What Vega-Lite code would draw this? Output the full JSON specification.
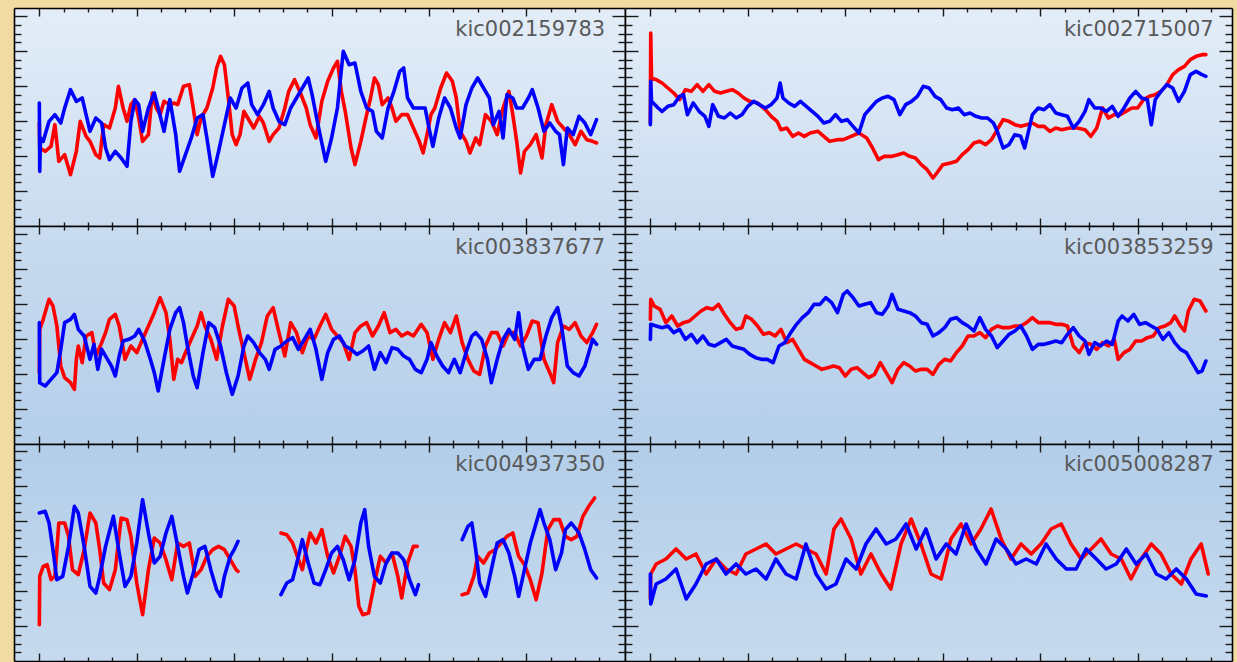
{
"$schema": "https://vega.github.io/schema/vega-lite/v6.json",
"background": "#f2dba2",
"padding": {"left": 13, "top": 7, "right": 4, "bottom": 0},
"autosize": {"type": "pad"},
"config": {
  "view": {"stroke": null},
  "axis": {"domainColor": "#000000", "domainWidth": 1.6, "tickColor": "#1a1a1a", "tickWidth": 1.4, "labels": false, "grid": false, "minExtent": 0, "maxExtent": 0},
  "line": {"strokeWidth": 3.6, "strokeJoin": "round", "strokeCap": "round"},
  "text": {"font": "DejaVu Sans", "fontSize": 21, "color": "#595959", "align": "right", "baseline": "alphabetic"}
},
"datasets": {
"p1r": [{"t":0,"v":309},{"t":1,"v":234},{"t":15,"v":224},{"t":30,"v":239},{"t":40,"v":304},{"t":50,"v":194},{"t":65,"v":214},{"t":80,"v":154},{"t":95,"v":224},{"t":105,"v":314},{"t":120,"v":269},{"t":130,"v":254},{"t":145,"v":214},{"t":155,"v":204},{"t":165,"v":304},{"t":180,"v":294},{"t":195,"v":354},{"t":203,"v":419},{"t":215,"v":354},{"t":225,"v":314},{"t":235,"v":364},{"t":245,"v":379},{"t":255,"v":324},{"t":265,"v":254},{"t":280,"v":274},{"t":290,"v":399},{"t":300,"v":354},{"t":310,"v":334},{"t":320,"v":374},{"t":335,"v":364},{"t":345,"v":369},{"t":355,"v":364},{"t":370,"v":419},{"t":385,"v":424},{"t":395,"v":354},{"t":405,"v":274},{"t":415,"v":324},{"t":430,"v":354},{"t":445,"v":414},{"t":455,"v":474},{"t":465,"v":509},{"t":475,"v":484},{"t":485,"v":384},{"t":495,"v":274},{"t":505,"v":244},{"t":515,"v":274},{"t":525,"v":344},{"t":535,"v":324},{"t":550,"v":294},{"t":565,"v":329},{"t":575,"v":309},{"t":590,"v":254},{"t":600,"v":274},{"t":615,"v":294},{"t":630,"v":354},{"t":640,"v":404},{"t":655,"v":439},{"t":670,"v":399},{"t":685,"v":354},{"t":695,"v":304},{"t":710,"v":264},{"t":725,"v":374},{"t":740,"v":434},{"t":755,"v":474},{"t":765,"v":494},{"t":775,"v":404},{"t":785,"v":344},{"t":800,"v":234},{"t":810,"v":184},{"t":825,"v":254},{"t":840,"v":334},{"t":850,"v":384},{"t":860,"v":444},{"t":870,"v":424},{"t":880,"v":364},{"t":895,"v":384},{"t":905,"v":354},{"t":915,"v":314},{"t":930,"v":334},{"t":945,"v":334},{"t":960,"v":294},{"t":975,"v":254},{"t":985,"v":219},{"t":995,"v":274},{"t":1005,"v":334},{"t":1015,"v":354},{"t":1030,"v":414},{"t":1045,"v":459},{"t":1060,"v":434},{"t":1070,"v":384},{"t":1080,"v":284},{"t":1095,"v":254},{"t":1105,"v":219},{"t":1120,"v":264},{"t":1130,"v":244},{"t":1145,"v":334},{"t":1160,"v":314},{"t":1175,"v":274},{"t":1190,"v":354},{"t":1205,"v":404},{"t":1215,"v":334},{"t":1225,"v":254},{"t":1235,"v":159},{"t":1245,"v":224},{"t":1260,"v":244},{"t":1275,"v":274},{"t":1290,"v":204},{"t":1300,"v":304},{"t":1315,"v":364},{"t":1330,"v":314},{"t":1345,"v":294},{"t":1360,"v":274},{"t":1375,"v":244},{"t":1390,"v":284},{"t":1405,"v":259},{"t":1420,"v":254},{"t":1430,"v":249}],
"p1b": [{"t":0,"v":369},{"t":1,"v":164},{"t":3,"v":264},{"t":10,"v":254},{"t":25,"v":314},{"t":40,"v":334},{"t":55,"v":309},{"t":65,"v":354},{"t":80,"v":409},{"t":95,"v":374},{"t":110,"v":384},{"t":120,"v":334},{"t":130,"v":284},{"t":145,"v":324},{"t":160,"v":309},{"t":170,"v":234},{"t":180,"v":199},{"t":195,"v":224},{"t":210,"v":204},{"t":225,"v":179},{"t":235,"v":314},{"t":245,"v":379},{"t":255,"v":364},{"t":265,"v":284},{"t":280,"v":354},{"t":295,"v":399},{"t":305,"v":354},{"t":320,"v":284},{"t":335,"v":379},{"t":350,"v":274},{"t":360,"v":164},{"t":375,"v":214},{"t":390,"v":264},{"t":405,"v":324},{"t":420,"v":334},{"t":430,"v":264},{"t":445,"v":149},{"t":460,"v":224},{"t":475,"v":304},{"t":490,"v":384},{"t":505,"v":354},{"t":520,"v":414},{"t":535,"v":429},{"t":545,"v":364},{"t":560,"v":334},{"t":575,"v":364},{"t":590,"v":404},{"t":600,"v":354},{"t":615,"v":314},{"t":630,"v":304},{"t":645,"v":354},{"t":660,"v":384},{"t":675,"v":414},{"t":690,"v":444},{"t":700,"v":394},{"t":715,"v":304},{"t":735,"v":194},{"t":750,"v":264},{"t":765,"v":354},{"t":780,"v":524},{"t":795,"v":484},{"t":810,"v":489},{"t":825,"v":404},{"t":840,"v":354},{"t":855,"v":344},{"t":865,"v":284},{"t":880,"v":264},{"t":895,"v":354},{"t":910,"v":404},{"t":925,"v":464},{"t":935,"v":474},{"t":945,"v":384},{"t":960,"v":354},{"t":975,"v":354},{"t":990,"v":354},{"t":1000,"v":294},{"t":1010,"v":239},{"t":1025,"v":324},{"t":1040,"v":384},{"t":1055,"v":354},{"t":1070,"v":294},{"t":1080,"v":264},{"t":1095,"v":364},{"t":1110,"v":414},{"t":1125,"v":444},{"t":1140,"v":414},{"t":1155,"v":384},{"t":1165,"v":304},{"t":1180,"v":344},{"t":1190,"v":264},{"t":1200,"v":394},{"t":1215,"v":384},{"t":1225,"v":354},{"t":1240,"v":354},{"t":1255,"v":384},{"t":1265,"v":409},{"t":1280,"v":354},{"t":1295,"v":284},{"t":1310,"v":309},{"t":1325,"v":284},{"t":1335,"v":274},{"t":1345,"v":184},{"t":1355,"v":294},{"t":1370,"v":274},{"t":1385,"v":329},{"t":1400,"v":309},{"t":1415,"v":274},{"t":1430,"v":319}],
"p2r": [{"t":0,"v":309},{"t":1,"v":579},{"t":3,"v":444},{"t":15,"v":439},{"t":30,"v":429},{"t":45,"v":414},{"t":60,"v":399},{"t":75,"v":379},{"t":90,"v":409},{"t":105,"v":404},{"t":120,"v":424},{"t":135,"v":404},{"t":150,"v":424},{"t":165,"v":404},{"t":180,"v":399},{"t":195,"v":404},{"t":210,"v":409},{"t":225,"v":399},{"t":240,"v":384},{"t":255,"v":374},{"t":275,"v":369},{"t":295,"v":349},{"t":310,"v":329},{"t":325,"v":314},{"t":335,"v":289},{"t":350,"v":294},{"t":365,"v":269},{"t":380,"v":279},{"t":395,"v":269},{"t":410,"v":279},{"t":430,"v":284},{"t":445,"v":269},{"t":460,"v":254},{"t":480,"v":259},{"t":495,"v":259},{"t":515,"v":269},{"t":535,"v":279},{"t":555,"v":264},{"t":570,"v":234},{"t":585,"v":199},{"t":600,"v":209},{"t":620,"v":209},{"t":635,"v":214},{"t":650,"v":219},{"t":665,"v":209},{"t":680,"v":204},{"t":695,"v":184},{"t":710,"v":169},{"t":725,"v":144},{"t":735,"v":159},{"t":750,"v":184},{"t":770,"v":189},{"t":785,"v":194},{"t":800,"v":214},{"t":815,"v":229},{"t":830,"v":249},{"t":845,"v":254},{"t":860,"v":244},{"t":875,"v":259},{"t":890,"v":289},{"t":905,"v":319},{"t":920,"v":314},{"t":935,"v":304},{"t":950,"v":299},{"t":965,"v":304},{"t":980,"v":309},{"t":995,"v":299},{"t":1010,"v":299},{"t":1025,"v":284},{"t":1040,"v":294},{"t":1055,"v":289},{"t":1075,"v":294},{"t":1095,"v":294},{"t":1115,"v":289},{"t":1130,"v":269},{"t":1145,"v":294},{"t":1160,"v":354},{"t":1175,"v":324},{"t":1190,"v":334},{"t":1205,"v":334},{"t":1220,"v":344},{"t":1235,"v":354},{"t":1250,"v":354},{"t":1265,"v":379},{"t":1280,"v":389},{"t":1295,"v":394},{"t":1310,"v":404},{"t":1325,"v":424},{"t":1340,"v":454},{"t":1355,"v":469},{"t":1370,"v":479},{"t":1385,"v":499},{"t":1400,"v":509},{"t":1415,"v":514},{"t":1425,"v":514}],
"p2b": [{"t":0,"v":304},{"t":1,"v":434},{"t":3,"v":374},{"t":20,"v":354},{"t":30,"v":344},{"t":45,"v":359},{"t":60,"v":364},{"t":75,"v":389},{"t":85,"v":394},{"t":95,"v":334},{"t":110,"v":369},{"t":125,"v":344},{"t":140,"v":329},{"t":150,"v":299},{"t":160,"v":364},{"t":175,"v":329},{"t":190,"v":324},{"t":205,"v":339},{"t":220,"v":324},{"t":235,"v":334},{"t":250,"v":359},{"t":265,"v":374},{"t":280,"v":364},{"t":295,"v":354},{"t":310,"v":364},{"t":325,"v":384},{"t":333,"v":429},{"t":340,"v":384},{"t":355,"v":369},{"t":370,"v":359},{"t":385,"v":374},{"t":400,"v":359},{"t":415,"v":344},{"t":430,"v":329},{"t":445,"v":309},{"t":460,"v":314},{"t":475,"v":334},{"t":490,"v":314},{"t":505,"v":319},{"t":520,"v":299},{"t":535,"v":279},{"t":550,"v":334},{"t":565,"v":354},{"t":580,"v":374},{"t":595,"v":384},{"t":610,"v":389},{"t":625,"v":379},{"t":640,"v":334},{"t":655,"v":364},{"t":670,"v":374},{"t":685,"v":389},{"t":700,"v":419},{"t":715,"v":414},{"t":730,"v":389},{"t":745,"v":379},{"t":760,"v":354},{"t":775,"v":349},{"t":790,"v":354},{"t":805,"v":334},{"t":820,"v":339},{"t":835,"v":329},{"t":850,"v":324},{"t":865,"v":324},{"t":880,"v":309},{"t":890,"v":284},{"t":905,"v":234},{"t":920,"v":244},{"t":935,"v":274},{"t":950,"v":269},{"t":960,"v":234},{"t":970,"v":284},{"t":980,"v":334},{"t":995,"v":354},{"t":1010,"v":349},{"t":1025,"v":364},{"t":1040,"v":339},{"t":1055,"v":334},{"t":1070,"v":329},{"t":1085,"v":294},{"t":1100,"v":314},{"t":1115,"v":344},{"t":1125,"v":379},{"t":1140,"v":354},{"t":1155,"v":354},{"t":1170,"v":344},{"t":1185,"v":359},{"t":1200,"v":329},{"t":1215,"v":354},{"t":1230,"v":384},{"t":1245,"v":404},{"t":1260,"v":384},{"t":1275,"v":379},{"t":1285,"v":304},{"t":1295,"v":379},{"t":1310,"v":404},{"t":1325,"v":424},{"t":1340,"v":414},{"t":1355,"v":374},{"t":1370,"v":404},{"t":1385,"v":454},{"t":1400,"v":464},{"t":1415,"v":454},{"t":1425,"v":449}],
"p3r": [{"t":0,"v":214},{"t":1,"v":344},{"t":10,"v":374},{"t":25,"v":434},{"t":35,"v":414},{"t":45,"v":354},{"t":55,"v":234},{"t":65,"v":199},{"t":80,"v":184},{"t":90,"v":164},{"t":95,"v":254},{"t":100,"v":294},{"t":110,"v":244},{"t":120,"v":324},{"t":135,"v":334},{"t":145,"v":264},{"t":160,"v":304},{"t":170,"v":334},{"t":180,"v":374},{"t":195,"v":389},{"t":205,"v":354},{"t":220,"v":254},{"t":235,"v":294},{"t":250,"v":274},{"t":265,"v":314},{"t":280,"v":354},{"t":295,"v":394},{"t":310,"v":439},{"t":325,"v":394},{"t":335,"v":314},{"t":345,"v":194},{"t":355,"v":254},{"t":365,"v":244},{"t":375,"v":274},{"t":390,"v":314},{"t":405,"v":354},{"t":415,"v":394},{"t":425,"v":354},{"t":440,"v":314},{"t":455,"v":254},{"t":470,"v":354},{"t":485,"v":434},{"t":500,"v":414},{"t":510,"v":354},{"t":525,"v":274},{"t":540,"v":194},{"t":555,"v":254},{"t":570,"v":304},{"t":585,"v":384},{"t":600,"v":409},{"t":615,"v":334},{"t":630,"v":264},{"t":645,"v":364},{"t":660,"v":334},{"t":675,"v":274},{"t":690,"v":324},{"t":705,"v":314},{"t":720,"v":354},{"t":735,"v":389},{"t":750,"v":344},{"t":765,"v":324},{"t":780,"v":304},{"t":795,"v":254},{"t":810,"v":334},{"t":825,"v":354},{"t":840,"v":364},{"t":855,"v":324},{"t":870,"v":354},{"t":885,"v":394},{"t":900,"v":334},{"t":915,"v":344},{"t":930,"v":324},{"t":945,"v":334},{"t":960,"v":324},{"t":980,"v":359},{"t":995,"v":334},{"t":1010,"v":254},{"t":1025,"v":314},{"t":1040,"v":364},{"t":1055,"v":334},{"t":1070,"v":384},{"t":1085,"v":304},{"t":1100,"v":254},{"t":1115,"v":219},{"t":1130,"v":209},{"t":1145,"v":294},{"t":1160,"v":334},{"t":1175,"v":334},{"t":1190,"v":294},{"t":1205,"v":334},{"t":1220,"v":334},{"t":1235,"v":294},{"t":1250,"v":324},{"t":1265,"v":369},{"t":1280,"v":364},{"t":1295,"v":254},{"t":1310,"v":214},{"t":1320,"v":184},{"t":1330,"v":304},{"t":1345,"v":354},{"t":1360,"v":344},{"t":1375,"v":364},{"t":1390,"v":324},{"t":1405,"v":304},{"t":1420,"v":334},{"t":1430,"v":359}],
"p3b": [{"t":0,"v":364},{"t":1,"v":184},{"t":15,"v":174},{"t":30,"v":194},{"t":45,"v":214},{"t":55,"v":284},{"t":65,"v":364},{"t":80,"v":374},{"t":90,"v":389},{"t":100,"v":344},{"t":115,"v":324},{"t":130,"v":254},{"t":140,"v":299},{"t":150,"v":224},{"t":160,"v":284},{"t":175,"v":254},{"t":185,"v":234},{"t":195,"v":204},{"t":205,"v":264},{"t":215,"v":309},{"t":230,"v":314},{"t":245,"v":324},{"t":255,"v":344},{"t":270,"v":309},{"t":285,"v":254},{"t":295,"v":214},{"t":305,"v":159},{"t":320,"v":254},{"t":335,"v":344},{"t":350,"v":394},{"t":360,"v":409},{"t":370,"v":364},{"t":380,"v":294},{"t":395,"v":204},{"t":405,"v":169},{"t":420,"v":274},{"t":435,"v":364},{"t":450,"v":349},{"t":465,"v":294},{"t":480,"v":214},{"t":495,"v":149},{"t":510,"v":204},{"t":525,"v":294},{"t":535,"v":324},{"t":550,"v":304},{"t":565,"v":274},{"t":580,"v":254},{"t":590,"v":224},{"t":605,"v":284},{"t":620,"v":294},{"t":635,"v":309},{"t":650,"v":319},{"t":665,"v":284},{"t":680,"v":314},{"t":695,"v":344},{"t":710,"v":284},{"t":725,"v":194},{"t":740,"v":274},{"t":755,"v":314},{"t":770,"v":324},{"t":785,"v":294},{"t":800,"v":284},{"t":815,"v":269},{"t":830,"v":279},{"t":845,"v":294},{"t":860,"v":224},{"t":875,"v":274},{"t":890,"v":244},{"t":905,"v":289},{"t":920,"v":284},{"t":935,"v":264},{"t":950,"v":254},{"t":965,"v":224},{"t":980,"v":214},{"t":995,"v":254},{"t":1005,"v":304},{"t":1020,"v":264},{"t":1035,"v":234},{"t":1050,"v":214},{"t":1065,"v":254},{"t":1080,"v":214},{"t":1095,"v":274},{"t":1110,"v":324},{"t":1120,"v":334},{"t":1135,"v":314},{"t":1150,"v":254},{"t":1160,"v":184},{"t":1175,"v":254},{"t":1190,"v":314},{"t":1205,"v":344},{"t":1220,"v":314},{"t":1230,"v":394},{"t":1240,"v":294},{"t":1255,"v":224},{"t":1270,"v":254},{"t":1285,"v":254},{"t":1300,"v":324},{"t":1315,"v":379},{"t":1330,"v":409},{"t":1340,"v":354},{"t":1355,"v":234},{"t":1370,"v":214},{"t":1385,"v":204},{"t":1400,"v":234},{"t":1410,"v":274},{"t":1420,"v":314},{"t":1430,"v":299}],
"p4r": [{"t":0,"v":374},{"t":1,"v":434},{"t":10,"v":414},{"t":25,"v":404},{"t":40,"v":364},{"t":55,"v":384},{"t":70,"v":354},{"t":85,"v":364},{"t":100,"v":369},{"t":115,"v":384},{"t":130,"v":399},{"t":145,"v":409},{"t":160,"v":404},{"t":175,"v":419},{"t":190,"v":389},{"t":205,"v":364},{"t":220,"v":344},{"t":235,"v":349},{"t":245,"v":384},{"t":260,"v":374},{"t":275,"v":354},{"t":290,"v":329},{"t":305,"v":334},{"t":320,"v":324},{"t":335,"v":344},{"t":350,"v":304},{"t":365,"v":314},{"t":380,"v":284},{"t":395,"v":254},{"t":410,"v":244},{"t":425,"v":234},{"t":440,"v":224},{"t":455,"v":229},{"t":470,"v":234},{"t":485,"v":229},{"t":500,"v":204},{"t":515,"v":224},{"t":530,"v":229},{"t":545,"v":214},{"t":560,"v":199},{"t":575,"v":209},{"t":590,"v":244},{"t":605,"v":214},{"t":620,"v":184},{"t":635,"v":224},{"t":650,"v":244},{"t":665,"v":234},{"t":680,"v":219},{"t":695,"v":224},{"t":710,"v":224},{"t":725,"v":209},{"t":740,"v":239},{"t":755,"v":254},{"t":770,"v":249},{"t":785,"v":274},{"t":800,"v":294},{"t":815,"v":324},{"t":830,"v":324},{"t":845,"v":334},{"t":860,"v":319},{"t":875,"v":344},{"t":890,"v":354},{"t":905,"v":349},{"t":920,"v":349},{"t":935,"v":354},{"t":950,"v":354},{"t":965,"v":364},{"t":980,"v":379},{"t":995,"v":364},{"t":1010,"v":364},{"t":1025,"v":364},{"t":1040,"v":359},{"t":1055,"v":359},{"t":1070,"v":354},{"t":1085,"v":294},{"t":1100,"v":274},{"t":1115,"v":304},{"t":1130,"v":299},{"t":1145,"v":284},{"t":1160,"v":304},{"t":1175,"v":294},{"t":1190,"v":314},{"t":1200,"v":254},{"t":1215,"v":274},{"t":1230,"v":284},{"t":1245,"v":309},{"t":1260,"v":309},{"t":1275,"v":319},{"t":1290,"v":324},{"t":1305,"v":349},{"t":1320,"v":354},{"t":1335,"v":364},{"t":1345,"v":384},{"t":1360,"v":354},{"t":1370,"v":339},{"t":1380,"v":399},{"t":1395,"v":434},{"t":1410,"v":429},{"t":1425,"v":399}],
"p4b": [{"t":0,"v":314},{"t":1,"v":359},{"t":15,"v":354},{"t":30,"v":349},{"t":45,"v":354},{"t":60,"v":334},{"t":75,"v":344},{"t":90,"v":314},{"t":105,"v":329},{"t":120,"v":304},{"t":135,"v":324},{"t":150,"v":299},{"t":165,"v":294},{"t":180,"v":304},{"t":195,"v":314},{"t":210,"v":294},{"t":225,"v":289},{"t":240,"v":284},{"t":255,"v":269},{"t":270,"v":259},{"t":285,"v":254},{"t":300,"v":254},{"t":315,"v":244},{"t":330,"v":294},{"t":345,"v":304},{"t":360,"v":334},{"t":375,"v":359},{"t":390,"v":379},{"t":405,"v":394},{"t":420,"v":419},{"t":435,"v":419},{"t":450,"v":439},{"t":465,"v":424},{"t":480,"v":394},{"t":495,"v":449},{"t":505,"v":459},{"t":520,"v":439},{"t":535,"v":414},{"t":550,"v":419},{"t":565,"v":424},{"t":580,"v":394},{"t":595,"v":389},{"t":610,"v":414},{"t":620,"v":449},{"t":635,"v":404},{"t":650,"v":399},{"t":665,"v":394},{"t":680,"v":384},{"t":695,"v":364},{"t":710,"v":359},{"t":725,"v":324},{"t":740,"v":334},{"t":755,"v":349},{"t":770,"v":374},{"t":785,"v":379},{"t":800,"v":364},{"t":815,"v":354},{"t":830,"v":339},{"t":845,"v":379},{"t":860,"v":344},{"t":875,"v":324},{"t":890,"v":289},{"t":905,"v":309},{"t":920,"v":329},{"t":935,"v":339},{"t":950,"v":354},{"t":965,"v":324},{"t":980,"v":284},{"t":995,"v":299},{"t":1010,"v":299},{"t":1025,"v":304},{"t":1040,"v":309},{"t":1055,"v":304},{"t":1070,"v":329},{"t":1085,"v":349},{"t":1100,"v":324},{"t":1115,"v":309},{"t":1125,"v":269},{"t":1140,"v":304},{"t":1155,"v":294},{"t":1170,"v":309},{"t":1185,"v":299},{"t":1200,"v":369},{"t":1210,"v":384},{"t":1225,"v":369},{"t":1240,"v":389},{"t":1255,"v":359},{"t":1270,"v":364},{"t":1285,"v":354},{"t":1300,"v":344},{"t":1315,"v":314},{"t":1330,"v":334},{"t":1345,"v":304},{"t":1360,"v":284},{"t":1375,"v":274},{"t":1390,"v":244},{"t":1405,"v":214},{"t":1415,"v":219},{"t":1425,"v":249}],
"p5r": [{"g":1,"t":0,"v":109},{"g":1,"t":1,"v":254},{"g":1,"t":10,"v":284},{"g":1,"t":20,"v":289},{"g":1,"t":30,"v":244},{"g":1,"t":40,"v":254},{"g":1,"t":50,"v":414},{"g":1,"t":65,"v":414},{"g":1,"t":75,"v":374},{"g":1,"t":85,"v":274},{"g":1,"t":100,"v":259},{"g":1,"t":115,"v":334},{"g":1,"t":130,"v":444},{"g":1,"t":145,"v":414},{"g":1,"t":155,"v":334},{"g":1,"t":165,"v":234},{"g":1,"t":180,"v":214},{"g":1,"t":195,"v":274},{"g":1,"t":210,"v":429},{"g":1,"t":225,"v":424},{"g":1,"t":235,"v":374},{"g":1,"t":250,"v":234},{"g":1,"t":265,"v":139},{"g":1,"t":280,"v":274},{"g":1,"t":295,"v":369},{"g":1,"t":310,"v":354},{"g":1,"t":325,"v":304},{"g":1,"t":340,"v":244},{"g":1,"t":355,"v":354},{"g":1,"t":370,"v":344},{"g":1,"t":385,"v":354},{"g":1,"t":400,"v":254},{"g":1,"t":415,"v":274},{"g":1,"t":430,"v":314},{"g":1,"t":445,"v":334},{"g":1,"t":460,"v":344},{"g":1,"t":475,"v":334},{"g":1,"t":490,"v":304},{"g":1,"t":505,"v":274},{"g":1,"t":510,"v":269},
{"g":2,"t":620,"v":384},{"g":2,"t":635,"v":379},{"g":2,"t":650,"v":354},{"g":2,"t":665,"v":304},{"g":2,"t":675,"v":274},{"g":2,"t":685,"v":334},{"g":2,"t":695,"v":384},{"g":2,"t":710,"v":354},{"g":2,"t":725,"v":394},{"g":2,"t":740,"v":314},{"g":2,"t":755,"v":264},{"g":2,"t":770,"v":314},{"g":2,"t":785,"v":374},{"g":2,"t":800,"v":344},{"g":2,"t":810,"v":274},{"g":2,"t":820,"v":164},{"g":2,"t":830,"v":139},{"g":2,"t":845,"v":144},{"g":2,"t":860,"v":234},{"g":2,"t":875,"v":314},{"g":2,"t":890,"v":294},{"g":2,"t":905,"v":324},{"g":2,"t":920,"v":254},{"g":2,"t":930,"v":189},{"g":2,"t":945,"v":294},{"g":2,"t":960,"v":344},{"g":2,"t":970,"v":344},
{"g":3,"t":1085,"v":199},{"g":3,"t":1100,"v":204},{"g":3,"t":1115,"v":254},{"g":3,"t":1125,"v":314},{"g":3,"t":1140,"v":294},{"g":3,"t":1155,"v":324},{"g":3,"t":1170,"v":334},{"g":3,"t":1185,"v":354},{"g":3,"t":1200,"v":374},{"g":3,"t":1215,"v":384},{"g":3,"t":1230,"v":314},{"g":3,"t":1245,"v":289},{"g":3,"t":1260,"v":244},{"g":3,"t":1275,"v":184},{"g":3,"t":1290,"v":264},{"g":3,"t":1305,"v":394},{"g":3,"t":1320,"v":424},{"g":3,"t":1335,"v":424},{"g":3,"t":1350,"v":374},{"g":3,"t":1365,"v":364},{"g":3,"t":1380,"v":374},{"g":3,"t":1395,"v":434},{"g":3,"t":1410,"v":464},{"g":3,"t":1425,"v":489}],
"p5b": [{"g":1,"t":0,"v":444},{"g":1,"t":15,"v":449},{"g":1,"t":25,"v":414},{"g":1,"t":35,"v":334},{"g":1,"t":45,"v":244},{"g":1,"t":60,"v":254},{"g":1,"t":75,"v":344},{"g":1,"t":90,"v":464},{"g":1,"t":100,"v":444},{"g":1,"t":115,"v":344},{"g":1,"t":130,"v":224},{"g":1,"t":145,"v":204},{"g":1,"t":155,"v":254},{"g":1,"t":170,"v":344},{"g":1,"t":190,"v":434},{"g":1,"t":205,"v":324},{"g":1,"t":220,"v":224},{"g":1,"t":235,"v":254},{"g":1,"t":250,"v":354},{"g":1,"t":265,"v":484},{"g":1,"t":280,"v":384},{"g":1,"t":295,"v":294},{"g":1,"t":310,"v":314},{"g":1,"t":325,"v":384},{"g":1,"t":340,"v":434},{"g":1,"t":355,"v":344},{"g":1,"t":370,"v":254},{"g":1,"t":380,"v":204},{"g":1,"t":395,"v":264},{"g":1,"t":410,"v":334},{"g":1,"t":425,"v":344},{"g":1,"t":440,"v":274},{"g":1,"t":455,"v":214},{"g":1,"t":465,"v":194},{"g":1,"t":475,"v":254},{"g":1,"t":490,"v":314},{"g":1,"t":500,"v":334},{"g":1,"t":510,"v":359},
{"g":2,"t":620,"v":199},{"g":2,"t":635,"v":234},{"g":2,"t":650,"v":244},{"g":2,"t":665,"v":314},{"g":2,"t":675,"v":364},{"g":2,"t":690,"v":294},{"g":2,"t":705,"v":234},{"g":2,"t":720,"v":229},{"g":2,"t":735,"v":274},{"g":2,"t":750,"v":324},{"g":2,"t":765,"v":344},{"g":2,"t":780,"v":304},{"g":2,"t":795,"v":244},{"g":2,"t":810,"v":304},{"g":2,"t":825,"v":414},{"g":2,"t":835,"v":454},{"g":2,"t":845,"v":344},{"g":2,"t":860,"v":254},{"g":2,"t":875,"v":234},{"g":2,"t":890,"v":294},{"g":2,"t":905,"v":324},{"g":2,"t":920,"v":324},{"g":2,"t":935,"v":304},{"g":2,"t":950,"v":244},{"g":2,"t":965,"v":199},{"g":2,"t":973,"v":229},
{"g":3,"t":1085,"v":364},{"g":3,"t":1100,"v":404},{"g":3,"t":1110,"v":414},{"g":3,"t":1120,"v":334},{"g":3,"t":1130,"v":234},{"g":3,"t":1145,"v":194},{"g":3,"t":1160,"v":274},{"g":3,"t":1175,"v":354},{"g":3,"t":1190,"v":364},{"g":3,"t":1205,"v":324},{"g":3,"t":1220,"v":254},{"g":3,"t":1230,"v":194},{"g":3,"t":1245,"v":274},{"g":3,"t":1260,"v":354},{"g":3,"t":1275,"v":414},{"g":3,"t":1285,"v":454},{"g":3,"t":1295,"v":414},{"g":3,"t":1310,"v":364},{"g":3,"t":1325,"v":274},{"g":3,"t":1340,"v":324},{"g":3,"t":1350,"v":394},{"g":3,"t":1365,"v":414},{"g":3,"t":1375,"v":399},{"g":3,"t":1385,"v":384},{"g":3,"t":1400,"v":334},{"g":3,"t":1415,"v":274},{"g":3,"t":1430,"v":249}],
"p6r": [{"t":0,"v":186},{"t":1,"v":261},{"t":15,"v":291},{"t":40,"v":306},{"t":66,"v":336},{"t":92,"v":306},{"t":117,"v":321},{"t":143,"v":261},{"t":169,"v":306},{"t":194,"v":276},{"t":220,"v":261},{"t":245,"v":321},{"t":271,"v":336},{"t":297,"v":351},{"t":322,"v":321},{"t":348,"v":336},{"t":374,"v":351},{"t":399,"v":336},{"t":425,"v":321},{"t":451,"v":261},{"t":471,"v":396},{"t":489,"v":426},{"t":515,"v":366},{"t":540,"v":261},{"t":566,"v":321},{"t":592,"v":261},{"t":617,"v":216},{"t":643,"v":351},{"t":669,"v":426},{"t":694,"v":351},{"t":720,"v":261},{"t":746,"v":246},{"t":771,"v":366},{"t":797,"v":411},{"t":823,"v":351},{"t":848,"v":396},{"t":874,"v":456},{"t":900,"v":366},{"t":925,"v":306},{"t":951,"v":351},{"t":977,"v":321},{"t":1002,"v":351},{"t":1028,"v":396},{"t":1054,"v":411},{"t":1079,"v":351},{"t":1105,"v":306},{"t":1131,"v":336},{"t":1156,"v":366},{"t":1182,"v":321},{"t":1208,"v":306},{"t":1233,"v":246},{"t":1259,"v":306},{"t":1285,"v":351},{"t":1310,"v":321},{"t":1336,"v":261},{"t":1362,"v":231},{"t":1387,"v":306},{"t":1413,"v":351},{"t":1431,"v":261}],
"p6b": [{"t":0,"v":261},{"t":1,"v":171},{"t":15,"v":231},{"t":40,"v":246},{"t":66,"v":276},{"t":92,"v":186},{"t":117,"v":231},{"t":143,"v":291},{"t":169,"v":306},{"t":194,"v":261},{"t":220,"v":291},{"t":245,"v":261},{"t":271,"v":276},{"t":297,"v":246},{"t":322,"v":306},{"t":348,"v":261},{"t":374,"v":246},{"t":399,"v":351},{"t":425,"v":261},{"t":451,"v":216},{"t":476,"v":231},{"t":502,"v":306},{"t":528,"v":276},{"t":553,"v":351},{"t":579,"v":396},{"t":605,"v":351},{"t":630,"v":366},{"t":656,"v":411},{"t":682,"v":336},{"t":707,"v":396},{"t":733,"v":306},{"t":759,"v":351},{"t":784,"v":321},{"t":810,"v":411},{"t":836,"v":336},{"t":861,"v":291},{"t":887,"v":366},{"t":913,"v":336},{"t":938,"v":291},{"t":964,"v":306},{"t":990,"v":291},{"t":1015,"v":351},{"t":1041,"v":306},{"t":1067,"v":276},{"t":1092,"v":276},{"t":1118,"v":336},{"t":1144,"v":306},{"t":1169,"v":276},{"t":1195,"v":291},{"t":1221,"v":336},{"t":1246,"v":291},{"t":1272,"v":321},{"t":1298,"v":261},{"t":1323,"v":246},{"t":1349,"v":276},{"t":1375,"v":246},{"t":1400,"v":201},{"t":1426,"v":195}]
},
"columns": 2,
"spacing": 0,
"bounds": "flush",
"concat": [
{
 "width": 611, "height": 218,
 "view": {"fill": {"gradient": "linear", "x1": 0, "y1": 0, "x2": 0, "y2": 1, "stops": [{"offset": 0, "color": "#e3edf8"}, {"offset": 1, "color": "#cadcf0"}]}},
 "layer": [
  {"data": {"name": "p1r"}, "mark": {"type": "line", "color": "#ff0000"},
   "encoding": {"x": {"field": "t", "type": "quantitative", "title": null, "scale": {"domain": [-65, 1503], "nice": false, "zero": false}, "axis": {"orient": "top", "values": [0,62.5,125,187.5,250,312.5,375,437.5,500,562.5,625,687.5,750,812.5,875,937.5,1000,1062.5,1125,1187.5,1250,1312.5,1375,1437.5], "tickSize": {"condition": {"test": "datum.value % 250 === 0", "value": -8}, "value": -4}}},
    "y": {"field": "v", "type": "quantitative", "title": null, "scale": {"domain": [0, 654], "nice": false, "zero": false}, "axis": {"orient": "left", "values": [26.25,52.5,78.75,105,131.25,157.5,183.75,210,236.25,262.5,288.75,315,341.25,367.5,393.75,420,446.25,472.5,498.75,525,551.25,577.5,603.75,630], "tickSize": {"condition": {"test": "datum.value % 105 === 0", "value": -13}, "value": -7}}}}},
  {"data": {"name": "p1b"}, "mark": {"type": "line", "color": "#0000ff"},
   "encoding": {"x": {"field": "t", "type": "quantitative", "title": null, "scale": {"domain": [-65, 1503], "nice": false, "zero": false}, "axis": {"orient": "bottom", "values": [0,62.5,125,187.5,250,312.5,375,437.5,500,562.5,625,687.5,750,812.5,875,937.5,1000,1062.5,1125,1187.5,1250,1312.5,1375,1437.5], "tickSize": {"condition": {"test": "datum.value % 250 === 0", "value": -8}, "value": -4}}},
    "y": {"field": "v", "type": "quantitative", "title": null, "scale": {"domain": [0, 654], "nice": false, "zero": false}, "axis": {"orient": "right", "values": [26.25,52.5,78.75,105,131.25,157.5,183.75,210,236.25,262.5,288.75,315,341.25,367.5,393.75,420,446.25,472.5,498.75,525,551.25,577.5,603.75,630], "tickSize": {"condition": {"test": "datum.value % 105 === 0", "value": -13}, "value": -7}}}}},
  {"data": {"values": [{"label": "kic002159783"}]}, "mark": {"type": "text"},
   "encoding": {"text": {"field": "label"}, "x": {"datum": 1452, "type": "quantitative", "axis": null, "scale": {"domain": [-65, 1503], "nice": false, "zero": false}}, "y": {"datum": 569, "type": "quantitative", "axis": null, "scale": {"domain": [0, 654], "nice": false, "zero": false}}}}
 ],
 "resolve": {"axis": {"x": "independent", "y": "independent"}}
},
{
 "width": 607, "height": 218,
 "view": {"fill": {"gradient": "linear", "x1": 0, "y1": 0, "x2": 0, "y2": 1, "stops": [{"offset": 0, "color": "#e3edf8"}, {"offset": 1, "color": "#cadcf0"}]}},
 "layer": [
  {"data": {"name": "p2r"}, "mark": {"type": "line", "color": "#ff0000"},
   "encoding": {"x": {"field": "t", "type": "quantitative", "title": null, "scale": {"domain": [-65, 1492], "nice": false, "zero": false}, "axis": {"orient": "top", "values": [0,62.5,125,187.5,250,312.5,375,437.5,500,562.5,625,687.5,750,812.5,875,937.5,1000,1062.5,1125,1187.5,1250,1312.5,1375,1437.5], "tickSize": {"condition": {"test": "datum.value % 250 === 0", "value": -8}, "value": -4}}},
    "y": {"field": "v", "type": "quantitative", "title": null, "scale": {"domain": [0, 654], "nice": false, "zero": false}, "axis": {"orient": "left", "values": [26.25,52.5,78.75,105,131.25,157.5,183.75,210,236.25,262.5,288.75,315,341.25,367.5,393.75,420,446.25,472.5,498.75,525,551.25,577.5,603.75,630], "tickSize": {"condition": {"test": "datum.value % 105 === 0", "value": -13}, "value": -7}}}}},
  {"data": {"name": "p2b"}, "mark": {"type": "line", "color": "#0000ff"},
   "encoding": {"x": {"field": "t", "type": "quantitative", "title": null, "scale": {"domain": [-65, 1492], "nice": false, "zero": false}, "axis": {"orient": "bottom", "values": [0,62.5,125,187.5,250,312.5,375,437.5,500,562.5,625,687.5,750,812.5,875,937.5,1000,1062.5,1125,1187.5,1250,1312.5,1375,1437.5], "tickSize": {"condition": {"test": "datum.value % 250 === 0", "value": -8}, "value": -4}}},
    "y": {"field": "v", "type": "quantitative", "title": null, "scale": {"domain": [0, 654], "nice": false, "zero": false}, "axis": {"orient": "right", "values": [26.25,52.5,78.75,105,131.25,157.5,183.75,210,236.25,262.5,288.75,315,341.25,367.5,393.75,420,446.25,472.5,498.75,525,551.25,577.5,603.75,630], "tickSize": {"condition": {"test": "datum.value % 105 === 0", "value": -13}, "value": -7}}}}},
  {"data": {"values": [{"label": "kic002715007"}]}, "mark": {"type": "text"},
   "encoding": {"text": {"field": "label"}, "x": {"datum": 1445, "type": "quantitative", "axis": null, "scale": {"domain": [-65, 1492], "nice": false, "zero": false}}, "y": {"datum": 569, "type": "quantitative", "axis": null, "scale": {"domain": [0, 654], "nice": false, "zero": false}}}}
 ],
 "resolve": {"axis": {"x": "independent", "y": "independent"}}
},
{
 "width": 611, "height": 218,
 "view": {"fill": {"gradient": "linear", "x1": 0, "y1": 0, "x2": 0, "y2": 1, "stops": [{"offset": 0, "color": "#c9dbef"}, {"offset": 1, "color": "#b5cfea"}]}},
 "layer": [
  {"data": {"name": "p3r"}, "mark": {"type": "line", "color": "#ff0000"},
   "encoding": {"x": {"field": "t", "type": "quantitative", "title": null, "scale": {"domain": [-65, 1503], "nice": false, "zero": false}, "axis": {"orient": "top", "values": [0,62.5,125,187.5,250,312.5,375,437.5,500,562.5,625,687.5,750,812.5,875,937.5,1000,1062.5,1125,1187.5,1250,1312.5,1375,1437.5], "tickSize": {"condition": {"test": "datum.value % 250 === 0", "value": -8}, "value": -4}}},
    "y": {"field": "v", "type": "quantitative", "title": null, "scale": {"domain": [0, 654], "nice": false, "zero": false}, "axis": {"orient": "left", "values": [26.25,52.5,78.75,105,131.25,157.5,183.75,210,236.25,262.5,288.75,315,341.25,367.5,393.75,420,446.25,472.5,498.75,525,551.25,577.5,603.75,630], "tickSize": {"condition": {"test": "datum.value % 105 === 0", "value": -13}, "value": -7}}}}},
  {"data": {"name": "p3b"}, "mark": {"type": "line", "color": "#0000ff"},
   "encoding": {"x": {"field": "t", "type": "quantitative", "title": null, "scale": {"domain": [-65, 1503], "nice": false, "zero": false}, "axis": {"orient": "bottom", "values": [0,62.5,125,187.5,250,312.5,375,437.5,500,562.5,625,687.5,750,812.5,875,937.5,1000,1062.5,1125,1187.5,1250,1312.5,1375,1437.5], "tickSize": {"condition": {"test": "datum.value % 250 === 0", "value": -8}, "value": -4}}},
    "y": {"field": "v", "type": "quantitative", "title": null, "scale": {"domain": [0, 654], "nice": false, "zero": false}, "axis": {"orient": "right", "values": [26.25,52.5,78.75,105,131.25,157.5,183.75,210,236.25,262.5,288.75,315,341.25,367.5,393.75,420,446.25,472.5,498.75,525,551.25,577.5,603.75,630], "tickSize": {"condition": {"test": "datum.value % 105 === 0", "value": -13}, "value": -7}}}}},
  {"data": {"values": [{"label": "kic003837677"}]}, "mark": {"type": "text"},
   "encoding": {"text": {"field": "label"}, "x": {"datum": 1452, "type": "quantitative", "axis": null, "scale": {"domain": [-65, 1503], "nice": false, "zero": false}}, "y": {"datum": 569, "type": "quantitative", "axis": null, "scale": {"domain": [0, 654], "nice": false, "zero": false}}}}
 ],
 "resolve": {"axis": {"x": "independent", "y": "independent"}}
},
{
 "width": 607, "height": 218,
 "view": {"fill": {"gradient": "linear", "x1": 0, "y1": 0, "x2": 0, "y2": 1, "stops": [{"offset": 0, "color": "#c9dbef"}, {"offset": 1, "color": "#b5cfea"}]}},
 "layer": [
  {"data": {"name": "p4r"}, "mark": {"type": "line", "color": "#ff0000"},
   "encoding": {"x": {"field": "t", "type": "quantitative", "title": null, "scale": {"domain": [-65, 1492], "nice": false, "zero": false}, "axis": {"orient": "top", "values": [0,62.5,125,187.5,250,312.5,375,437.5,500,562.5,625,687.5,750,812.5,875,937.5,1000,1062.5,1125,1187.5,1250,1312.5,1375,1437.5], "tickSize": {"condition": {"test": "datum.value % 250 === 0", "value": -8}, "value": -4}}},
    "y": {"field": "v", "type": "quantitative", "title": null, "scale": {"domain": [0, 654], "nice": false, "zero": false}, "axis": {"orient": "left", "values": [26.25,52.5,78.75,105,131.25,157.5,183.75,210,236.25,262.5,288.75,315,341.25,367.5,393.75,420,446.25,472.5,498.75,525,551.25,577.5,603.75,630], "tickSize": {"condition": {"test": "datum.value % 105 === 0", "value": -13}, "value": -7}}}}},
  {"data": {"name": "p4b"}, "mark": {"type": "line", "color": "#0000ff"},
   "encoding": {"x": {"field": "t", "type": "quantitative", "title": null, "scale": {"domain": [-65, 1492], "nice": false, "zero": false}, "axis": {"orient": "bottom", "values": [0,62.5,125,187.5,250,312.5,375,437.5,500,562.5,625,687.5,750,812.5,875,937.5,1000,1062.5,1125,1187.5,1250,1312.5,1375,1437.5], "tickSize": {"condition": {"test": "datum.value % 250 === 0", "value": -8}, "value": -4}}},
    "y": {"field": "v", "type": "quantitative", "title": null, "scale": {"domain": [0, 654], "nice": false, "zero": false}, "axis": {"orient": "right", "values": [26.25,52.5,78.75,105,131.25,157.5,183.75,210,236.25,262.5,288.75,315,341.25,367.5,393.75,420,446.25,472.5,498.75,525,551.25,577.5,603.75,630], "tickSize": {"condition": {"test": "datum.value % 105 === 0", "value": -13}, "value": -7}}}}},
  {"data": {"values": [{"label": "kic003853259"}]}, "mark": {"type": "text"},
   "encoding": {"text": {"field": "label"}, "x": {"datum": 1445, "type": "quantitative", "axis": null, "scale": {"domain": [-65, 1492], "nice": false, "zero": false}}, "y": {"datum": 569, "type": "quantitative", "axis": null, "scale": {"domain": [0, 654], "nice": false, "zero": false}}}}
 ],
 "resolve": {"axis": {"x": "independent", "y": "independent"}}
},
{
 "width": 611, "height": 217,
 "view": {"fill": {"gradient": "linear", "x1": 0, "y1": 0, "x2": 0, "y2": 1, "stops": [{"offset": 0, "color": "#b3cee9"}, {"offset": 1, "color": "#c6daee"}]}},
 "layer": [
  {"data": {"name": "p5r"}, "mark": {"type": "line", "color": "#ff0000"},
   "encoding": {"detail": {"field": "g"}, "x": {"field": "t", "type": "quantitative", "title": null, "scale": {"domain": [-65, 1503], "nice": false, "zero": false}, "axis": {"orient": "top", "values": [0,62.5,125,187.5,250,312.5,375,437.5,500,562.5,625,687.5,750,812.5,875,937.5,1000,1062.5,1125,1187.5,1250,1312.5,1375,1437.5], "tickSize": {"condition": {"test": "datum.value % 250 === 0", "value": -8}, "value": -4}}},
    "y": {"field": "v", "type": "quantitative", "title": null, "scale": {"domain": [0, 651], "nice": false, "zero": false}, "axis": {"orient": "left", "values": [26.25,52.5,78.75,105,131.25,157.5,183.75,210,236.25,262.5,288.75,315,341.25,367.5,393.75,420,446.25,472.5,498.75,525,551.25,577.5,603.75,630], "tickSize": {"condition": {"test": "datum.value % 105 === 0", "value": -13}, "value": -7}}}}},
  {"data": {"name": "p5b"}, "mark": {"type": "line", "color": "#0000ff"},
   "encoding": {"detail": {"field": "g"}, "x": {"field": "t", "type": "quantitative", "title": null, "scale": {"domain": [-65, 1503], "nice": false, "zero": false}, "axis": {"orient": "bottom", "values": [0,62.5,125,187.5,250,312.5,375,437.5,500,562.5,625,687.5,750,812.5,875,937.5,1000,1062.5,1125,1187.5,1250,1312.5,1375,1437.5], "tickSize": {"condition": {"test": "datum.value % 250 === 0", "value": -8}, "value": -4}}},
    "y": {"field": "v", "type": "quantitative", "title": null, "scale": {"domain": [0, 651], "nice": false, "zero": false}, "axis": {"orient": "right", "values": [26.25,52.5,78.75,105,131.25,157.5,183.75,210,236.25,262.5,288.75,315,341.25,367.5,393.75,420,446.25,472.5,498.75,525,551.25,577.5,603.75,630], "tickSize": {"condition": {"test": "datum.value % 105 === 0", "value": -13}, "value": -7}}}}},
  {"data": {"values": [{"label": "kic004937350"}]}, "mark": {"type": "text"},
   "encoding": {"text": {"field": "label"}, "x": {"datum": 1452, "type": "quantitative", "axis": null, "scale": {"domain": [-65, 1503], "nice": false, "zero": false}}, "y": {"datum": 569, "type": "quantitative", "axis": null, "scale": {"domain": [0, 651], "nice": false, "zero": false}}}}
 ],
 "resolve": {"axis": {"x": "independent", "y": "independent"}}
},
{
 "width": 607, "height": 217,
 "view": {"fill": {"gradient": "linear", "x1": 0, "y1": 0, "x2": 0, "y2": 1, "stops": [{"offset": 0, "color": "#b3cee9"}, {"offset": 1, "color": "#c6daee"}]}},
 "layer": [
  {"data": {"name": "p6r"}, "mark": {"type": "line", "color": "#ff0000"},
   "encoding": {"x": {"field": "t", "type": "quantitative", "title": null, "scale": {"domain": [-65, 1492], "nice": false, "zero": false}, "axis": {"orient": "top", "values": [0,62.5,125,187.5,250,312.5,375,437.5,500,562.5,625,687.5,750,812.5,875,937.5,1000,1062.5,1125,1187.5,1250,1312.5,1375,1437.5], "tickSize": {"condition": {"test": "datum.value % 250 === 0", "value": -8}, "value": -4}}},
    "y": {"field": "v", "type": "quantitative", "title": null, "scale": {"domain": [0, 651], "nice": false, "zero": false}, "axis": {"orient": "left", "values": [26.25,52.5,78.75,105,131.25,157.5,183.75,210,236.25,262.5,288.75,315,341.25,367.5,393.75,420,446.25,472.5,498.75,525,551.25,577.5,603.75,630], "tickSize": {"condition": {"test": "datum.value % 105 === 0", "value": -13}, "value": -7}}}}},
  {"data": {"name": "p6b"}, "mark": {"type": "line", "color": "#0000ff"},
   "encoding": {"x": {"field": "t", "type": "quantitative", "title": null, "scale": {"domain": [-65, 1492], "nice": false, "zero": false}, "axis": {"orient": "bottom", "values": [0,62.5,125,187.5,250,312.5,375,437.5,500,562.5,625,687.5,750,812.5,875,937.5,1000,1062.5,1125,1187.5,1250,1312.5,1375,1437.5], "tickSize": {"condition": {"test": "datum.value % 250 === 0", "value": -8}, "value": -4}}},
    "y": {"field": "v", "type": "quantitative", "title": null, "scale": {"domain": [0, 651], "nice": false, "zero": false}, "axis": {"orient": "right", "values": [26.25,52.5,78.75,105,131.25,157.5,183.75,210,236.25,262.5,288.75,315,341.25,367.5,393.75,420,446.25,472.5,498.75,525,551.25,577.5,603.75,630], "tickSize": {"condition": {"test": "datum.value % 105 === 0", "value": -13}, "value": -7}}}}},
  {"data": {"values": [{"label": "kic005008287"}]}, "mark": {"type": "text"},
   "encoding": {"text": {"field": "label"}, "x": {"datum": 1445, "type": "quantitative", "axis": null, "scale": {"domain": [-65, 1492], "nice": false, "zero": false}}, "y": {"datum": 569, "type": "quantitative", "axis": null, "scale": {"domain": [0, 651], "nice": false, "zero": false}}}}
 ],
 "resolve": {"axis": {"x": "independent", "y": "independent"}}
}
]
}
